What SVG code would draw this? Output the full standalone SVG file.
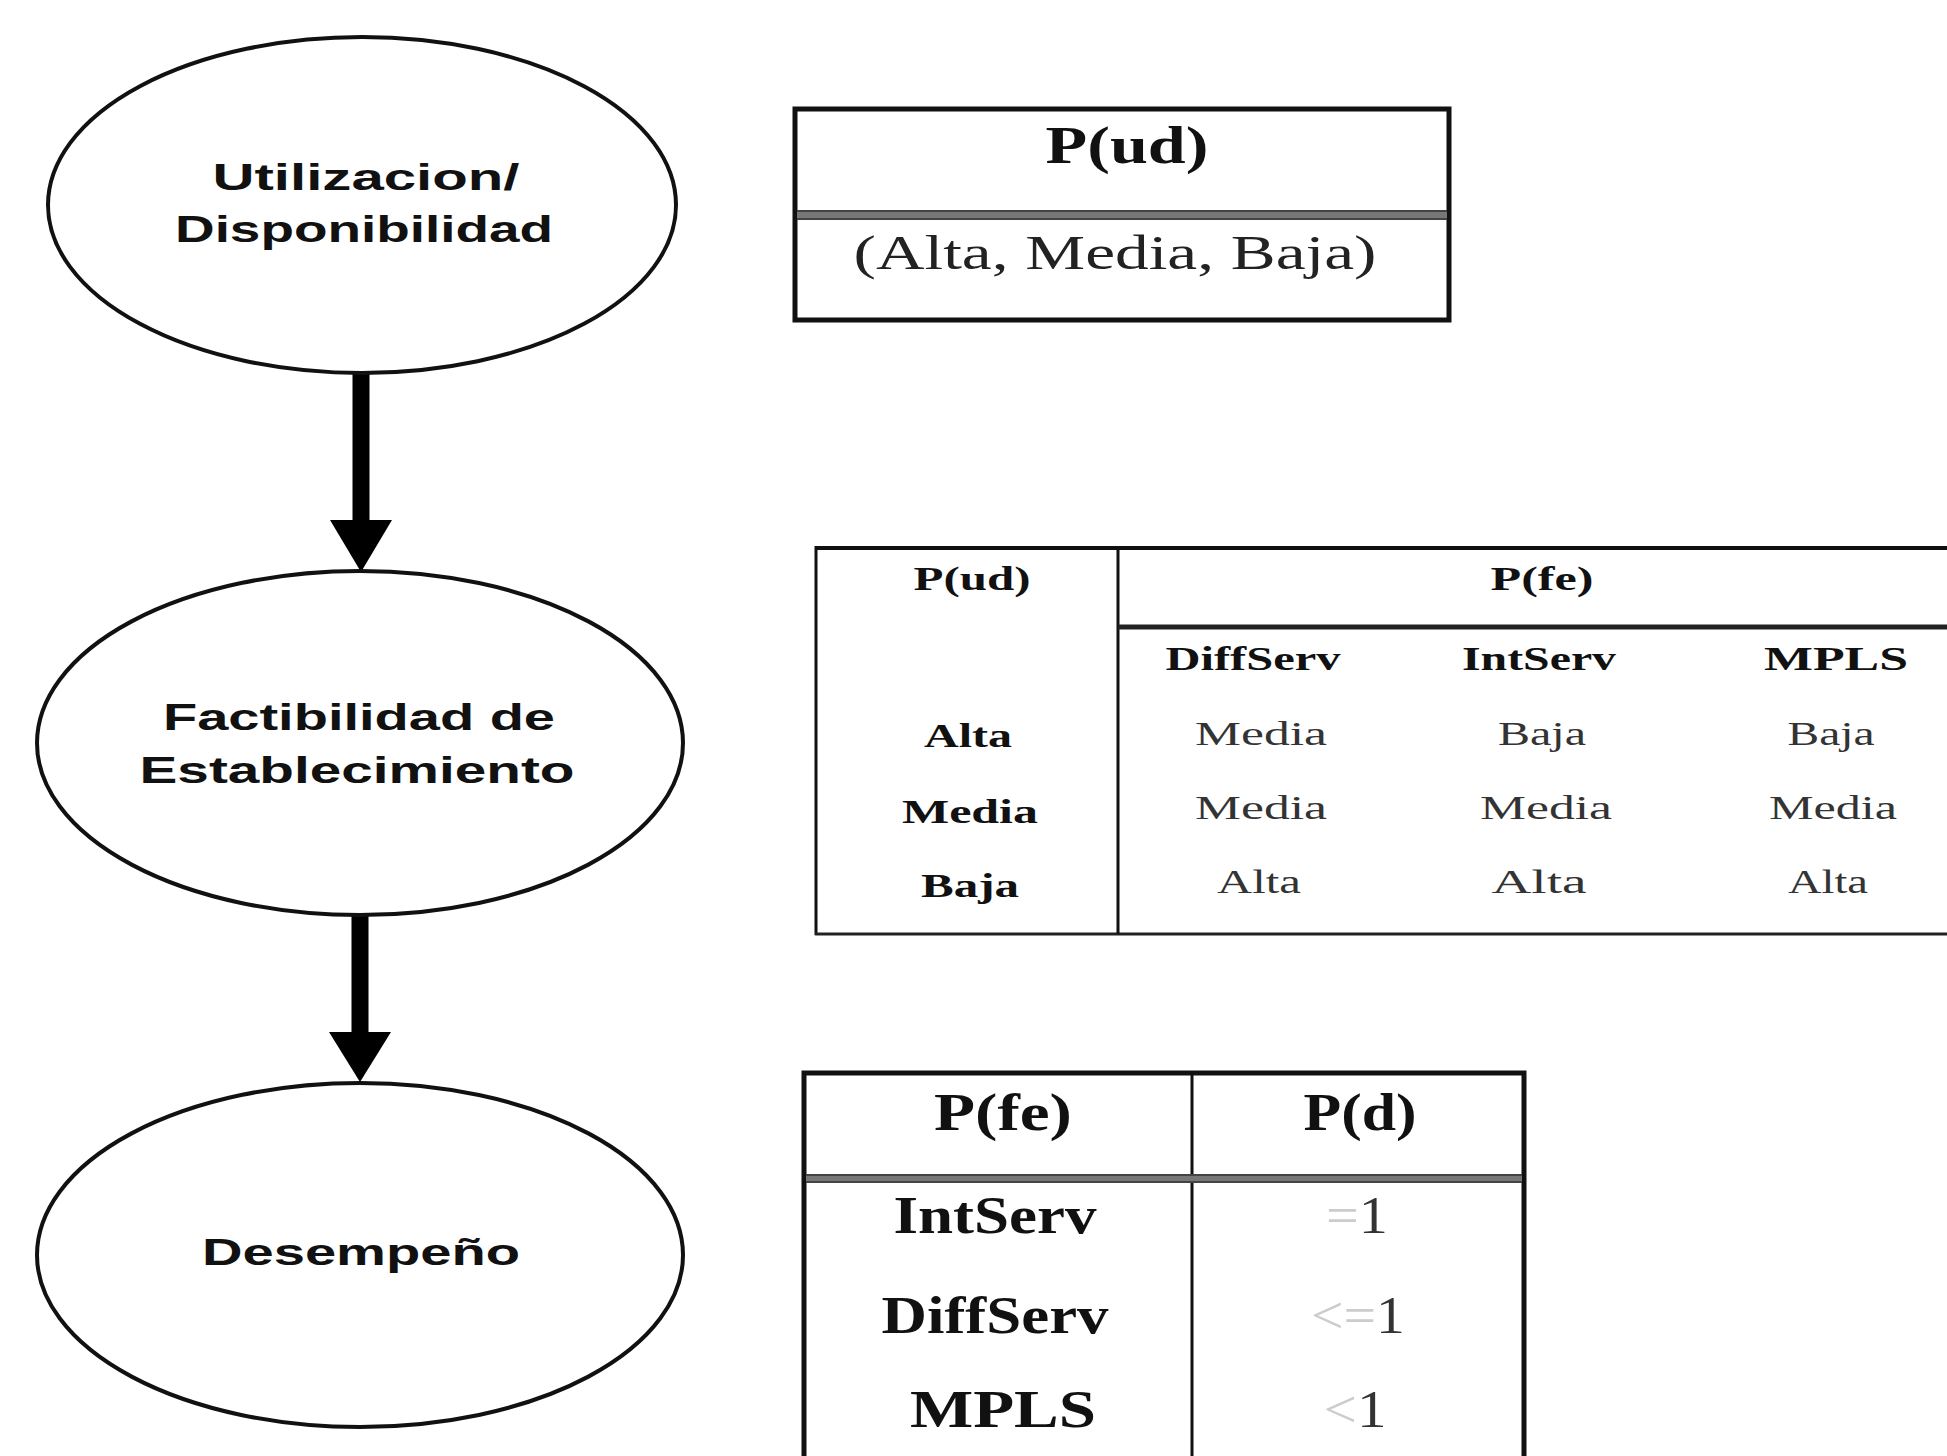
<svg xmlns="http://www.w3.org/2000/svg" width="1947" height="1456" viewBox="0 0 1947 1456">
<style>
.node{fill:#fff;stroke:#111;stroke-width:4}
.nt{font-family:"Liberation Sans",Arial,sans-serif;font-weight:bold;font-size:36px;fill:#111;text-anchor:middle}
.tb{fill:none;stroke:#111}
.serif{font-family:"Liberation Serif","Times New Roman",serif;text-anchor:middle}
.b{font-weight:bold;fill:#111}
.v{fill:#333}
.conn{stroke:#000;stroke-width:17;fill:none}
</style>
<defs>
<marker id="ah" markerUnits="userSpaceOnUse" markerWidth="64" markerHeight="54" refX="62" refY="32" orient="auto" viewBox="0 0 64 64">
<path d="M0,1 L62,32 L0,63 Z" fill="#000"/>
</marker>
</defs>
<rect width="1947" height="1456" fill="#fff"/>

<g id="connectors">
<line class="conn" x1="361" y1="370" x2="361" y2="522"/>
<path d="M330,520 L392,520 L361,572 Z" fill="#000"/>
<line class="conn" x1="360" y1="910" x2="360" y2="1034"/>
<path d="M329,1032 L391,1032 L360,1082 Z" fill="#000"/>
</g>

<g id="node-utilizacion">
<ellipse class="node" cx="362" cy="205" rx="314" ry="168"/>
<text class="nt" x="366" y="190" textLength="307" lengthAdjust="spacingAndGlyphs">Utilizacion/</text>
<text class="nt" x="364" y="242" textLength="378" lengthAdjust="spacingAndGlyphs">Disponibilidad</text>
</g>

<g id="node-factibilidad">
<ellipse class="node" cx="360" cy="743" rx="323" ry="172"/>
<text class="nt" x="359" y="730" textLength="392" lengthAdjust="spacingAndGlyphs">Factibilidad de</text>
<text class="nt" x="357" y="783" textLength="435" lengthAdjust="spacingAndGlyphs">Establecimiento</text>
</g>

<g id="node-desempeno">
<ellipse class="node" cx="360" cy="1255" rx="323" ry="172"/>
<text class="nt" x="361" y="1265" textLength="318" lengthAdjust="spacingAndGlyphs">Desempeño</text>
</g>

<g id="table-pud">
<rect class="tb" x="795" y="109" width="654" height="211" stroke-width="5"/>
<rect x="797" y="210" width="650" height="10" fill="#777"/>
<line x1="797" y1="211" x2="1447" y2="211" stroke="#444" stroke-width="2"/>
<line x1="797" y1="219" x2="1447" y2="219" stroke="#444" stroke-width="2"/>
<text class="serif b" x="1127" y="163" font-size="52" textLength="163" lengthAdjust="spacingAndGlyphs">P(ud)</text>
<text class="serif" x="1115" y="269" font-size="48" fill="#222" textLength="523" lengthAdjust="spacingAndGlyphs">(Alta, Media, Baja)</text>
</g>

<g id="table-pfe">
<line x1="815" y1="548" x2="1947" y2="548" stroke="#111" stroke-width="4"/>
<line x1="816" y1="546" x2="816" y2="935" stroke="#111" stroke-width="3"/>
<line x1="815" y1="934" x2="1947" y2="934" stroke="#222" stroke-width="3"/>
<line x1="1118" y1="548" x2="1118" y2="934" stroke="#111" stroke-width="3"/>
<line x1="1118" y1="627" x2="1947" y2="627" stroke="#222" stroke-width="5"/>
<g font-size="34">
<text class="serif b" x="972" y="590" textLength="117" lengthAdjust="spacingAndGlyphs">P(ud)</text>
<text class="serif b" x="1542" y="590" textLength="103" lengthAdjust="spacingAndGlyphs">P(fe)</text>
<text class="serif b" x="1253" y="670" textLength="175" lengthAdjust="spacingAndGlyphs">DiffServ</text>
<text class="serif b" x="1539" y="670" textLength="154" lengthAdjust="spacingAndGlyphs">IntServ</text>
<text class="serif b" x="1836" y="670" textLength="144" lengthAdjust="spacingAndGlyphs">MPLS</text>
<text class="serif b" x="968" y="747" textLength="88" lengthAdjust="spacingAndGlyphs">Alta</text>
<text class="serif b" x="970" y="823" textLength="136" lengthAdjust="spacingAndGlyphs">Media</text>
<text class="serif b" x="970" y="897" textLength="98" lengthAdjust="spacingAndGlyphs">Baja</text>
<text class="serif v" x="1261" y="745" textLength="132" lengthAdjust="spacingAndGlyphs">Media</text>
<text class="serif v" x="1542" y="745" textLength="88" lengthAdjust="spacingAndGlyphs">Baja</text>
<text class="serif v" x="1831" y="745" textLength="87" lengthAdjust="spacingAndGlyphs">Baja</text>
<text class="serif v" x="1261" y="819" textLength="132" lengthAdjust="spacingAndGlyphs">Media</text>
<text class="serif v" x="1546" y="819" textLength="132" lengthAdjust="spacingAndGlyphs">Media</text>
<text class="serif v" x="1833" y="819" textLength="128" lengthAdjust="spacingAndGlyphs">Media</text>
<text class="serif v" x="1259" y="893" textLength="84" lengthAdjust="spacingAndGlyphs">Alta</text>
<text class="serif v" x="1539" y="893" textLength="95" lengthAdjust="spacingAndGlyphs">Alta</text>
<text class="serif v" x="1828" y="893" textLength="80" lengthAdjust="spacingAndGlyphs">Alta</text>
</g>
</g>

<g id="table-pd">
<path class="tb" d="M804,1460 L804,1073 L1524,1073 L1524,1460" stroke-width="5"/>
<line x1="1192" y1="1073" x2="1192" y2="1460" stroke="#111" stroke-width="3"/>
<rect x="806" y="1174" width="716" height="9" fill="#777"/>
<line x1="806" y1="1175" x2="1522" y2="1175" stroke="#444" stroke-width="2"/>
<line x1="806" y1="1182" x2="1522" y2="1182" stroke="#444" stroke-width="2"/>
<g font-size="52">
<text class="serif b" x="1003" y="1130" textLength="138" lengthAdjust="spacingAndGlyphs">P(fe)</text>
<text class="serif b" x="1360" y="1130" textLength="113" lengthAdjust="spacingAndGlyphs">P(d)</text>
<text class="serif b" x="995" y="1233" textLength="203" lengthAdjust="spacingAndGlyphs">IntServ</text>
<text class="serif b" x="995" y="1333" textLength="227" lengthAdjust="spacingAndGlyphs">DiffServ</text>
<text class="serif b" x="1003" y="1427" textLength="186" lengthAdjust="spacingAndGlyphs">MPLS</text>
<text class="serif" x="1357" y="1233" textLength="62" lengthAdjust="spacingAndGlyphs"><tspan fill="#ccc">=</tspan><tspan fill="#333">1</tspan></text>
<text class="serif" x="1358" y="1333" textLength="94" lengthAdjust="spacingAndGlyphs"><tspan fill="#ccc">&lt;=</tspan><tspan fill="#333">1</tspan></text>
<text class="serif" x="1355" y="1427" textLength="63" lengthAdjust="spacingAndGlyphs"><tspan fill="#ccc">&lt;</tspan><tspan fill="#333">1</tspan></text>
</g>
</g>
</svg>
